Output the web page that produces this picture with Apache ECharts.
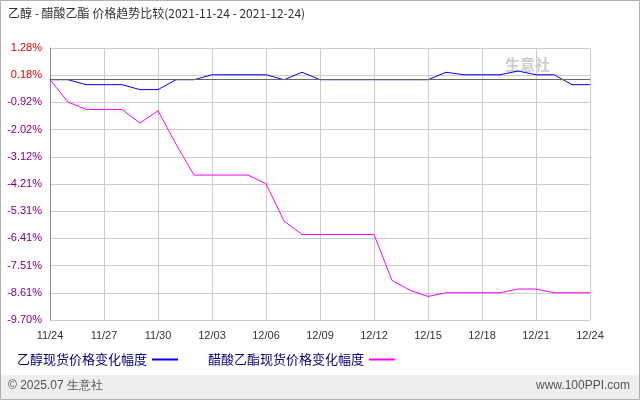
<!DOCTYPE html>
<html><head><meta charset="utf-8">
<script src="https://cdn.jsdelivr.net/npm/echarts@6/dist/echarts.min.js"></script>
<style>html,body{margin:0;padding:0;background:#fff}#c{width:640px;height:400px}</style>
</head><body><div id="c"></div>
<script>
const dates=['11/24','11/25','11/26','11/27','11/28','11/29','11/30','12/01','12/02','12/03','12/04','12/05','12/06','12/07','12/08','12/09','12/10','12/11','12/12','12/13','12/14','12/15','12/16','12/17','12/18','12/19','12/20','12/21','12/22','12/23','12/24'];
const ethanol=[0,0,-0.2,-0.2,-0.2,-0.4,-0.4,0,0,0.2,0.2,0.2,0.2,0,0.3,0,0,0,0,0,0,0,0.3,0.2,0.2,0.2,0.35,0.2,0.2,-0.2,-0.2];
const ethylAcetate=[0,-0.9,-1.2,-1.2,-1.2,-1.75,-1.25,-2.6,-3.85,-3.85,-3.85,-3.85,-4.2,-5.7,-6.25,-6.25,-6.25,-6.25,-6.25,-8.1,-8.5,-8.75,-8.6,-8.6,-8.6,-8.6,-8.45,-8.45,-8.6,-8.6,-8.6];
const yTicks=['-9.70%','-8.61%','-7.51%','-6.41%','-5.31%','-4.21%','-3.12%','-2.02%','-0.92%','0.18%','1.28%'];
const c=echarts.init(document.getElementById('c'));
c.setOption({
 animation:false,
 graphic:[
  {type:'rect',shape:{x:0.5,y:0.5,width:639,height:399},style:{fill:'none',stroke:'#b0b0b0'}},
  {type:'rect',shape:{x:1,y:375,width:638,height:24},style:{fill:'#eeeeee'}},
  {type:'text',left:8,top:380,style:{text:'© 2025.07 生意社',fill:'#555',font:'12px sans-serif'}},
  {type:'text',right:10,top:380,style:{text:'www.100PPI.com',fill:'#555',font:'12px sans-serif'}},
  {type:'text',left:8,top:7,style:{text:'乙醇 - 醋酸乙酯 价格趋势比较(2021-11-24 - 2021-12-24)',fill:'#333',font:'12px "Noto Sans CJK SC",monospace'}},
  {type:'text',left:505,top:57,style:{text:'生意社',fill:'#ccc',font:'bold 15px "Noto Sans CJK SC"'}}
 ],
 legend:{left:12,top:348,itemWidth:26,itemHeight:2,itemGap:30,icon:'rect',align:'right',textStyle:{fontSize:13,color:'#000080',fontFamily:'Noto Sans CJK SC'},
  data:[{name:'乙醇现货价格变化幅度',itemStyle:{color:'#0000ff'}},{name:'醋酸乙酯现货价格变化幅度',itemStyle:{color:'#ff00ff'}}]},
 grid:{left:50,right:50,top:48,bottom:80},
 xAxis:{type:'category',data:dates,boundaryGap:false,
  axisLine:{lineStyle:{color:'#888'}},axisTick:{show:false},
  axisLabel:{interval:2,color:'#333',fontSize:11,margin:10},
  splitLine:{show:true,interval:2,lineStyle:{color:'#ccc'}}},
 yAxis:{type:'value',min:-9.70,max:1.28,interval:1.098,
  axisLine:{show:true,lineStyle:{color:'#888'}},axisTick:{show:false},
  axisLabel:{fontSize:11,margin:8,formatter:function(v){const i=Math.round((v+9.70)/1.098);const t=yTicks[i]||'';return v>0?'{p|'+t+'}':'{n|'+t+'}';},
   rich:{p:{color:'#e00000',fontSize:11},n:{color:'#800080',fontSize:11}}},
  splitLine:{lineStyle:{color:'#ccc'}}},
 series:[
  {name:'乙醇现货价格变化幅度',type:'line',data:ethanol,showSymbol:false,lineStyle:{color:'#0000ff',width:1},itemStyle:{color:'#0000ff'},
   markLine:{silent:true,symbol:'none',label:{show:false},lineStyle:{color:'#666',type:'solid',width:1},data:[{yAxis:0}]}},
  {name:'醋酸乙酯现货价格变化幅度',type:'line',data:ethylAcetate,showSymbol:false,lineStyle:{color:'#ff00ff',width:1},itemStyle:{color:'#ff00ff'}}
 ]
});
</script></body></html>
